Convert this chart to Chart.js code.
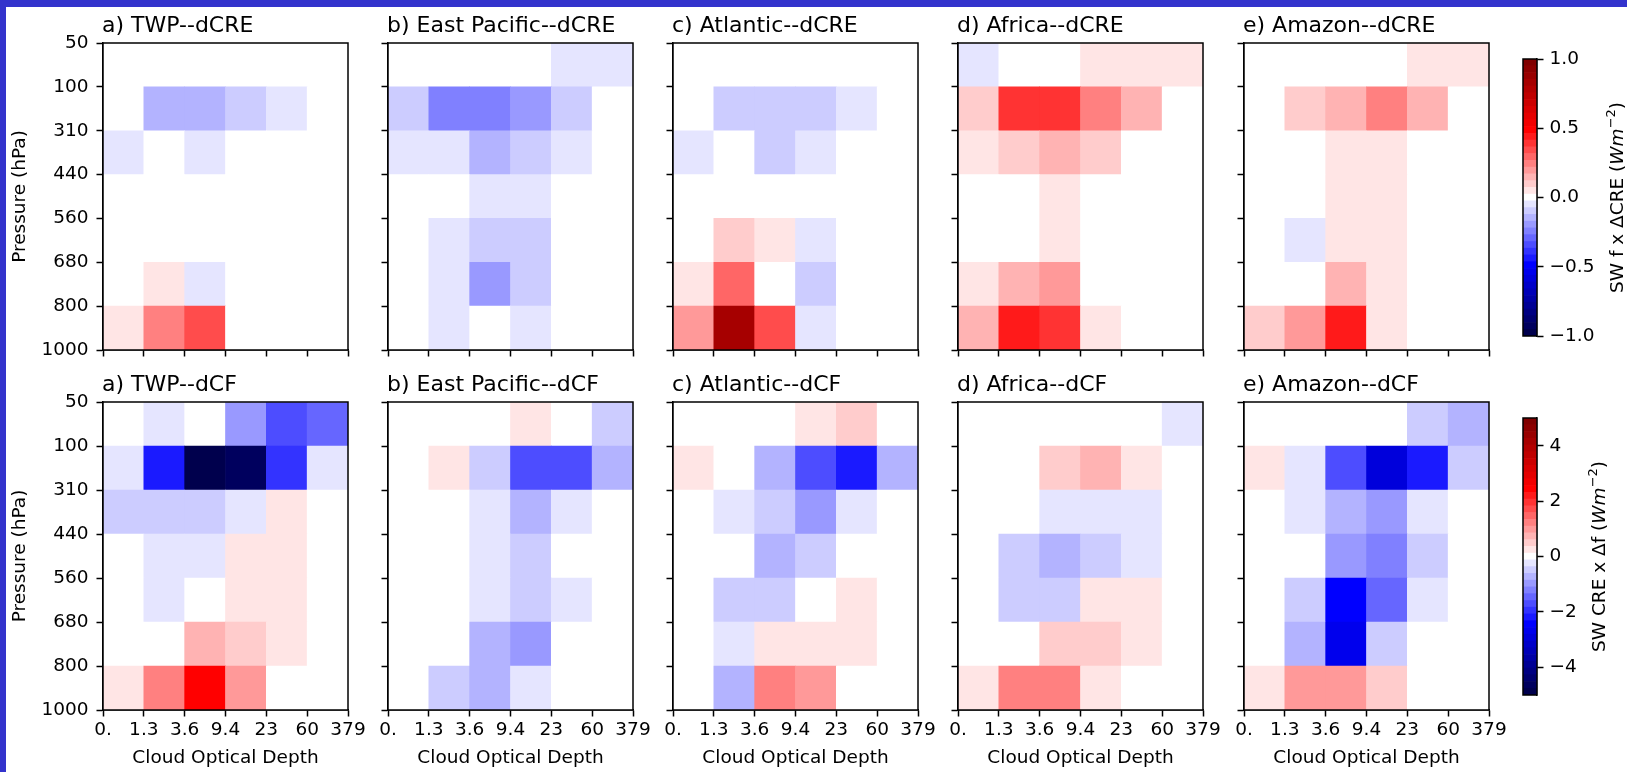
<!DOCTYPE html>
<html>
<head>
<meta charset="utf-8">
<script src="https://cdn.jsdelivr.net/npm/chart.js"></script>
<style>
  body { margin: 0; width: 1627px; height: 772px; overflow: hidden; background: #fff; position: relative; }
  .edge { position: absolute; background: #3333cc; }
  canvas { position: absolute; }
</style>
</head>
<body>
<div class="edge" style="left:0;top:0;width:1627px;height:7px"></div>
<div class="edge" style="left:0;top:0;width:6px;height:772px"></div>
<script>
// axis labels (bin edges)
const xLabels = ['0.', '1.3', '3.6', '9.4', '23', '60', '379'];
const yLabels = ['50', '100', '310', '440', '560', '680', '800', '1000'];
const regions = ['TWP', 'East Pacific', 'Atlantic', 'Africa', 'Amazon'];
const letters = ['a', 'b', 'c', 'd', 'e'];

// SW f x dCRE, rows top (50 hPa) to bottom (1000 hPa), cols by optical depth
const twpCRE = [
  [0, 0, 0, 0, 0, 0],
  [0, -0.15, -0.16, -0.1, -0.05, 0],
  [-0.05, 0, -0.05, 0, 0, 0],
  [0, 0, 0, 0, 0, 0],
  [0, 0, 0, 0, 0, 0],
  [0, 0.05, -0.05, 0, 0, 0],
  [0.05, 0.25, 0.35, 0, 0, 0]
];
const epacCRE = [
  [0, 0, 0, 0, -0.05, -0.05],
  [-0.1, -0.25, -0.25, -0.2, -0.1, 0],
  [-0.05, -0.05, -0.15, -0.1, -0.05, 0],
  [0, 0, -0.05, -0.05, 0, 0],
  [0, -0.05, -0.1, -0.1, 0, 0],
  [0, -0.05, -0.2, -0.1, 0, 0],
  [0, -0.05, 0, -0.05, 0, 0]
];
const atlCRE = [
  [0, 0, 0, 0, 0, 0],
  [0, -0.1, -0.1, -0.1, -0.05, 0],
  [-0.05, 0, -0.1, -0.05, 0, 0],
  [0, 0, 0, 0, 0, 0],
  [0, 0.1, 0.05, -0.05, 0, 0],
  [0.05, 0.3, 0, -0.1, 0, 0],
  [0.2, 0.85, 0.35, -0.05, 0, 0]
];
const afrCRE = [
  [-0.05, 0, 0, 0.05, 0.05, 0.05],
  [0.1, 0.4, 0.4, 0.25, 0.15, 0],
  [0.05, 0.1, 0.15, 0.1, 0, 0],
  [0, 0, 0.05, 0, 0, 0],
  [0, 0, 0.05, 0, 0, 0],
  [0.05, 0.15, 0.2, 0, 0, 0],
  [0.15, 0.45, 0.4, 0.05, 0, 0]
];
const amzCRE = [
  [0, 0, 0, 0, 0.05, 0.05],
  [0, 0.1, 0.15, 0.25, 0.15, 0],
  [0, 0, 0.05, 0.05, 0, 0],
  [0, 0, 0.05, 0.05, 0, 0],
  [0, -0.05, 0.05, 0.05, 0, 0],
  [0, 0, 0.15, 0.05, 0, 0],
  [0.1, 0.2, 0.45, 0.05, 0, 0]
];

// SW CRE x df
const twpCF = [
  [0, -0.25, 0, -1.0, -1.75, -1.5],
  [-0.25, -2.25, -5.0, -4.75, -2.0, -0.25],
  [-0.5, -0.5, -0.5, -0.25, 0.25, 0],
  [0, -0.25, -0.25, 0.25, 0.25, 0],
  [0, -0.25, 0, 0.25, 0.25, 0],
  [0, 0, 0.75, 0.5, 0.25, 0],
  [0.25, 1.25, 2.5, 1.0, 0, 0]
];
const epacCF = [
  [0, 0, 0, 0.25, 0, -0.5],
  [0, 0.25, -0.5, -1.75, -1.75, -0.75],
  [0, 0, -0.25, -0.75, -0.25, 0],
  [0, 0, -0.25, -0.5, 0, 0],
  [0, 0, -0.25, -0.5, -0.25, 0],
  [0, 0, -0.75, -1.0, 0, 0],
  [0, -0.5, -0.75, -0.25, 0, 0]
];
const atlCF = [
  [0, 0, 0, 0.25, 0.5, 0],
  [0.25, 0, -0.75, -1.75, -2.25, -0.75],
  [0, -0.25, -0.5, -1.0, -0.25, 0],
  [0, 0, -0.75, -0.5, 0, 0],
  [0, -0.5, -0.5, 0, 0.25, 0],
  [0, -0.25, 0.25, 0.25, 0.25, 0],
  [0, -0.75, 1.25, 1.0, 0, 0]
];
const afrCF = [
  [0, 0, 0, 0, 0, -0.25],
  [0, 0, 0.5, 0.75, 0.25, 0],
  [0, 0, -0.25, -0.25, -0.25, 0],
  [0, -0.5, -0.75, -0.5, -0.25, 0],
  [0, -0.5, -0.5, 0.25, 0.25, 0],
  [0, 0, 0.5, 0.5, 0.25, 0],
  [0.25, 1.25, 1.25, 0.25, 0, 0]
];
const amzCF = [
  [0, 0, 0, 0, -0.5, -0.75],
  [0.25, -0.25, -1.75, -3.0, -2.25, -0.5],
  [0, -0.25, -0.75, -1.0, -0.25, 0],
  [0, 0, -1.0, -1.25, -0.5, 0],
  [0, -0.5, -2.5, -1.5, -0.25, 0],
  [0, -0.75, -2.75, -0.5, 0, 0],
  [0.25, 1.0, 1.0, 0.5, 0, 0]
];

const creMax = 1, cfMax = 5;
const creTicks = [-1, -0.5, 0, 0.5, 1];
const cfTicks = [-4, -2, 0, 2, 4];

const creData = [twpCRE, epacCRE, atlCRE, afrCRE, amzCRE];
const cfData = [twpCF, epacCF, atlCF, afrCF, amzCF];

const FONT = 'DejaVu Sans';
const panelLeft = [103, 388, 673, 958, 1244];
const panelW = 245;

// matplotlib "seismic", sampled in 41 discrete levels
function seismic(x) {
  const stops = [[0, 0, 0, 0.3], [0.25, 0, 0, 1], [0.5, 1, 1, 1], [0.75, 1, 0, 0], [1, 0.5, 0, 0]];
  for (let i = 1; i < stops.length; i++) {
    if (x <= stops[i][0] + 1e-9) {
      const a = stops[i - 1], b = stops[i], f = (x - a[0]) / (b[0] - a[0]);
      const c = [1, 2, 3].map(j => Math.round(255 * (a[j] + f * (b[j] - a[j]))));
      return 'rgb(' + c.join(',') + ')';
    }
  }
  return 'rgb(128,0,0)';
}
function levelColor(v, vmax) {
  const step = 2 * vmax / 41;
  const k = Math.max(-20, Math.min(20, Math.round(v / step)));
  return seismic(0.5 + k / 40);
}

const framePlugin = {
  id: 'frame',
  afterDraw(chart) {
    const a = chart.chartArea, ctx = chart.ctx;
    ctx.save();
    ctx.strokeStyle = '#000';
    ctx.lineWidth = 1.5;
    ctx.strokeRect(a.left, a.top, a.right - a.left, a.bottom - a.top);
    ctx.restore();
  }
};

const panelTitle = {
  id: 'panelTitle',
  afterDraw(chart, args, opts) {
    if (!opts.text) return;
    const ctx = chart.ctx, a = chart.chartArea;
    ctx.save();
    ctx.font = '22px "' + FONT + '"';
    ctx.fillStyle = '#000';
    ctx.textBaseline = 'alphabetic';
    ctx.fillText(opts.text, a.left - 1, a.top - 11);
    ctx.restore();
  }
};

const cbarLabel = {
  id: 'cbarLabel',
  afterDraw(chart, args, o) {
    if (!o.parts) return;
    const ctx = chart.ctx, a = chart.chartArea;
    ctx.save();
    ctx.translate(o.x, (a.top + a.bottom) / 2);
    ctx.rotate(-Math.PI / 2);
    let w = 0;
    o.parts.forEach(p => { ctx.font = p.font; w += ctx.measureText(p.t).width; });
    let x = -w / 2;
    ctx.fillStyle = '#000';
    ctx.textBaseline = 'alphabetic';
    o.parts.forEach(p => {
      ctx.font = p.font;
      ctx.fillText(p.t, x, p.dy || 0);
      x += ctx.measureText(p.t).width;
    });
    ctx.restore();
  }
};

function addCanvas(left, top, w, h) {
  const cv = document.createElement('canvas');
  cv.width = w; cv.height = h;
  cv.style.left = left + 'px';
  cv.style.top = top + 'px';
  cv.style.width = w + 'px';
  cv.style.height = h + 'px';
  document.body.appendChild(cv);
  return cv;
}

const tickFont = { family: FONT, size: 18.5 };
const axisGrid = { drawOnChartArea: false, drawTicks: true, tickLength: 6.5, tickWidth: 1.5, color: '#000', offset: false };
const axisBorder = { display: true, color: '#000', width: 1.5 };

function makePanel(i, bottomRow) {
  const vals = bottomRow ? cfData[i] : creData[i];
  const vmax = bottomRow ? cfMax : creMax;
  const top = bottomRow ? 402 : 43;
  const h = bottomRow ? 308 : 307;
  const padL = 100, padT = 40, padR = 20, padB = bottomRow ? 62 : 30;
  const cv = addCanvas(panelLeft[i] - padL, top - padT, padL + panelW + padR, padT + h + padB);

  const cells = [], colors = [];
  vals.forEach((row, r) => row.forEach((v, c) => {
    cells.push({ x: c + 0.5, y: [r, r + 1] });
    colors.push(levelColor(v, vmax));
  }));

  new Chart(cv, {
    type: 'bar',
    data: {
      datasets: [{
        data: cells,
        backgroundColor: colors,
        borderWidth: 0,
        barPercentage: 1,
        categoryPercentage: 1
      }]
    },
    options: {
      responsive: false,
      animation: false,
      events: [],
      layout: { padding: { left: 0, top: padT, right: padR, bottom: 0 } },
      plugins: {
        legend: { display: false },
        tooltip: { enabled: false },
        panelTitle: { text: letters[i] + ') ' + regions[i] + '--' + (bottomRow ? 'dCF' : 'dCRE') }
      },
      scales: {
        x: {
          type: 'linear', min: 0, max: 6, offset: false,
          grid: axisGrid, border: axisBorder,
          ticks: {
            display: bottomRow, stepSize: 1, autoSkip: false, maxRotation: 0,
            padding: 3, color: '#000', font: tickFont,
            callback: v => xLabels[v]
          },
          title: {
            display: bottomRow, text: 'Cloud Optical Depth', color: '#000',
            font: tickFont, padding: { top: 0, bottom: 3 }
          },
          afterFit: s => { s.height = padB; s.paddingLeft = 0; s.paddingRight = 0; }
        },
        y: {
          type: 'linear', min: 0, max: 7, reverse: true,
          grid: axisGrid, border: axisBorder,
          ticks: {
            display: i === 0, stepSize: 1, autoSkip: false,
            padding: 8, color: '#000', font: tickFont,
            callback: v => yLabels[v]
          },
          title: {
            display: i === 0, text: 'Pressure (hPa)', color: '#000',
            font: tickFont, padding: { top: 6, bottom: 0 }
          },
          afterFit: s => { s.width = padL; s.paddingTop = 0; s.paddingBottom = 0; }
        }
      }
    },
    plugins: [framePlugin, panelTitle]
  });
}

function makeColorbar(vmax, ticks, fmt, barTop, labelParts, labelX) {
  const barH = 277;
  const padT = 15, padB = 15, padL = 23, axisW = 90;
  const cv = addCanvas(1500, barTop - padT, padL + 14 + axisW, barH + padT + padB);
  const s = 2 * vmax / 41;
  const datasets = [];
  for (let k = -20; k <= 20; k++) {
    datasets.push({
      data: [[(k - 0.5) * s, (k + 0.5) * s]],
      backgroundColor: seismic(0.5 + k / 40),
      borderWidth: 0,
      barPercentage: 1,
      categoryPercentage: 1,
      grouped: false
    });
  }
  new Chart(cv, {
    type: 'bar',
    data: { labels: [''], datasets },
    options: {
      responsive: false,
      animation: false,
      events: [],
      layout: { padding: { left: padL, top: padT, right: 0, bottom: padB } },
      plugins: {
        legend: { display: false },
        tooltip: { enabled: false },
        cbarLabel: { parts: labelParts, x: labelX }
      },
      scales: {
        x: { display: false },
        y: {
          position: 'right', min: -vmax, max: vmax,
          grid: { drawOnChartArea: false, drawTicks: true, tickLength: 6.5, tickWidth: 1.5, color: '#000' },
          border: { display: true, color: '#000', width: 1.2 },
          afterBuildTicks: sc => { sc.ticks = ticks.map(v => ({ value: v })); },
          ticks: { padding: 6, color: '#000', font: tickFont, callback: fmt },
          afterFit: sc => { sc.width = axisW; sc.paddingTop = 0; sc.paddingBottom = 0; }
        }
      }
    },
    plugins: [framePlugin, cbarLabel]
  });
}

for (let i = 0; i < 5; i++) {
  makePanel(i, false);
  makePanel(i, true);
}

const minus = t => String(t).replace('-', '\u2212');
const normal = '18.5px "' + FONT + '"';
const italic = 'italic 18.5px "' + FONT + '"';
const sup = '13px "' + FONT + '"';

makeColorbar(creMax, creTicks, v => minus(v.toFixed(1)), 59, [
  { t: 'SW f x \u0394CRE (', font: normal },
  { t: 'Wm', font: italic },
  { t: '\u22122', font: sup, dy: -8 },
  { t: ')', font: normal }
], 123);

makeColorbar(cfMax, cfTicks, v => minus(v), 418, [
  { t: 'SW CRE x \u0394f (', font: normal },
  { t: 'Wm', font: italic },
  { t: '\u22122', font: sup, dy: -8 },
  { t: ')', font: normal }
], 105);
</script>
</body>
</html>
